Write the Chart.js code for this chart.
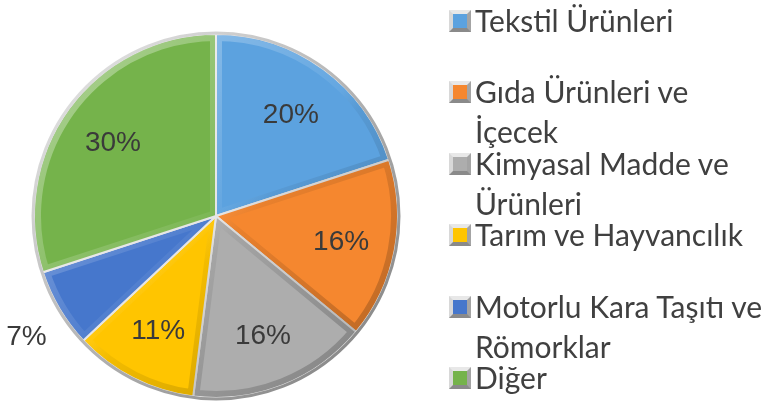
<!DOCTYPE html>
<html>
<head>
<meta charset="utf-8">
<script src="https://cdn.jsdelivr.net/npm/chart.js@4.4.0/dist/chart.umd.min.js"></script>
<style>
  html, body { margin: 0; padding: 0; background: #ffffff; }
  #wrap { position: relative; width: 767px; height: 403px; overflow: hidden; }
  #c { position: absolute; left: 0; top: 0; }
  #legend { position: absolute; left: 449px; top: 0px; margin: 0; padding: 0; list-style: none;
    font-family: Lato, "Open Sans", sans-serif; font-size: 30px; color: #404040; white-space: nowrap; }
  #legend li { position: relative; height: 71.4px; padding-left: 26px; line-height: 40px; }
  #legend .box { position: absolute; left: 0; top: 10px; width: 22px; height: 22px; box-sizing: border-box;
    border: 4px solid #c8c8c8; border-top-color: #e8e8e8; border-left-color: #d8d8d8; border-bottom-color: #8a8a8a; border-right-color: #a4a4a4; }
</style>
</head>
<body>
<div id="wrap">
  <canvas id="c" width="767" height="403"></canvas>
  <ul id="legend"></ul>
</div>
<script>
const categories = [
  ["Tekstil Ürünleri"],
  ["Gıda Ürünleri ve", "İçecek"],
  ["Kimyasal Madde ve", "Ürünleri"],
  ["Tarım ve Hayvancılık"],
  ["Motorlu Kara Taşıtı ve", "Römorklar"],
  ["Diğer"]
];
const shares = [20, 16, 16, 11, 7, 30];
const sliceColors = ["#5ca2df", "#f5872f", "#adadad", "#ffc500", "#4677cc", "#75b34b"];

const outsideLimit = 10;

const labelPlugin = {
  id: 'pctLabels',
  afterDatasetsDraw(chart) {
    const ctx = chart.ctx;
    const meta = chart.getDatasetMeta(0);
    ctx.save();
    ctx.font = '28px "Liberation Sans", Arial, sans-serif';
    ctx.fillStyle = '#3a3a3a';
    ctx.textAlign = 'center';
    ctx.textBaseline = 'middle';
    meta.data.forEach((arc, i) => {
      const p = arc.getProps(['x', 'y', 'startAngle', 'endAngle', 'outerRadius']);
      const mid = (p.startAngle + p.endAngle) / 2;
      const v = chart.data.datasets[0].data[i];
      const outside = v < outsideLimit;
      const r = outside ? p.outerRadius * 1.21 : p.outerRadius * 0.7;
      const dy = outside ? 9 : 2;
      ctx.fillText(v + '%', p.x + Math.cos(mid) * r, p.y + Math.sin(mid) * r + dy);
    });
    ctx.restore();
  }
};

const bevelPlugin = {
  id: 'bevel',
  afterDatasetsDraw(chart) {
    const ctx = chart.ctx;
    const meta = chart.getDatasetMeta(0);
    const a0 = meta.data[0];
    const cx = a0.x, cy = a0.y, R = a0.outerRadius;
    ctx.save();
    meta.data.forEach((arc) => {
      const p = arc.getProps(['x', 'y', 'startAngle', 'endAngle', 'outerRadius']);
      ctx.save();
      ctx.beginPath();
      ctx.moveTo(p.x, p.y);
      ctx.arc(p.x, p.y, p.outerRadius - 1, p.startAngle, p.endAngle);
      ctx.closePath();
      ctx.clip();
      const g = ctx.createLinearGradient(cx - R, cy - R, cx + R, cy + R);
      g.addColorStop(0, 'rgba(255,255,255,0.45)');
      g.addColorStop(0.5, 'rgba(255,255,255,0.05)');
      g.addColorStop(0.55, 'rgba(0,0,0,0.05)');
      g.addColorStop(1, 'rgba(0,0,0,0.28)');
      ctx.strokeStyle = g;
      ctx.lineWidth = 12;
      ctx.lineJoin = 'miter';
      ctx.stroke();
      ctx.restore();
    });
    const rg = ctx.createLinearGradient(cx - R, cy - R, cx + R, cy + R);
    rg.addColorStop(0, '#ececec');
    rg.addColorStop(1, '#7c7c7c');
    ctx.beginPath();
    ctx.arc(cx, cy, R + 1, 0, Math.PI * 2);
    ctx.strokeStyle = rg;
    ctx.lineWidth = 3;
    ctx.stroke();
    ctx.restore();
  }
};

const chart = new Chart(document.getElementById('c'), {
  type: 'pie',
  data: {
    labels: categories.map(c => c.join(' ')),
    datasets: [{
      data: shares,
      backgroundColor: sliceColors,
      borderColor: '#e4e4e4',
      borderWidth: 2
    }]
  },
  options: {
    responsive: false,
    animation: false,
    layout: { padding: { left: 33, top: 33, right: 368, bottom: 4 } },
    plugins: { legend: { display: false }, tooltip: { enabled: false } }
  },
  plugins: [bevelPlugin, labelPlugin]
});

const ul = document.getElementById('legend');
categories.forEach((lines, i) => {
  const li = document.createElement('li');
  const box = document.createElement('span');
  box.className = 'box';
  box.style.backgroundColor = sliceColors[i];
  li.appendChild(box);
  li.appendChild(document.createTextNode(lines[0]));
  for (let k = 1; k < lines.length; k++) {
    li.appendChild(document.createElement('br'));
    li.appendChild(document.createTextNode(lines[k]));
  }
  ul.appendChild(li);
});
</script>
</body>
</html>
